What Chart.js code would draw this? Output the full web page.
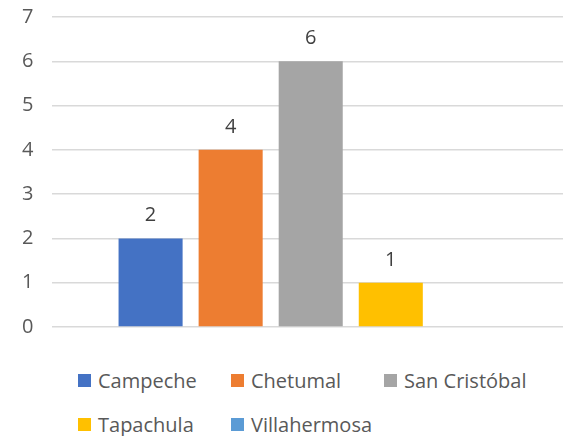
<!DOCTYPE html>
<html>
<head>
<meta charset="utf-8">
<script src="https://cdn.jsdelivr.net/npm/chart.js@4"></script>
<style>
  html, body { margin: 0; padding: 0; background: #fff; overflow: hidden; width: 563px; height: 436px; }
  #chart { position: absolute; left: 0; top: -14px; }
  #legend {
    position: absolute; left: 78px; top: 366px;
    display: grid; grid-template-columns: 153px 153px 170px; row-gap: 16px;
    font-family: "Open Sans", sans-serif; font-size: 20px; color: #595959;
  }
  .item { display: flex; align-items: center; white-space: nowrap; height: 28px; }
  .box { width: 13px; height: 13px; margin-right: 7px; }
</style>
</head>
<body>
<canvas id="chart" width="569" height="372"></canvas>
<div id="legend"></div>
<script>
// Datos del gráfico
const ciudades = ['Campeche', 'Chetumal', 'San Cristóbal', 'Tapachula', 'Villahermosa'];
const valores = [2, 4, 6, 1, null];
const colores = ['#4472C4', '#ED7D31', '#A5A5A5', '#FFC000', '#5B9BD5'];
const ticksY = [0, 1, 2, 3, 4, 5, 6, 7];

// Plugin simple para escribir el valor encima de cada barra
const etiquetas = {
    id: 'etiquetas',
    afterDatasetsDraw(chart) {
        const ctx = chart.ctx;
        ctx.save();
        ctx.font = '20px "Open Sans", sans-serif';
        ctx.fillStyle = '#404040';
        ctx.textAlign = 'center';
        ctx.textBaseline = 'alphabetic';
        chart.data.datasets.forEach((ds, i) => {
            const meta = chart.getDatasetMeta(i);
            meta.data.forEach((bar, j) => {
                const v = ds.data[j];
                if (v === null || v === undefined) return;
                ctx.fillText(String(v), bar.x, bar.y - 17);
            });
        });
        ctx.restore();
    }
};

const datasets = ciudades.map((nombre, i) => ({
    label: nombre,
    data: [valores[i]],
    backgroundColor: colores[i],
    categoryPercentage: 0.775,
    barPercentage: 0.8
}));

const chart = new Chart(document.getElementById('chart'), {
    type: 'bar',
    data: { labels: [''], datasets: datasets },
    options: {
        responsive: false,
        animation: false,
        layout: { padding: { left: 3, top: 10, right: 0, bottom: 0 } },
        plugins: { legend: { display: false }, tooltip: { enabled: false } },
        scales: {
            x: { display: false },
            y: {
                min: 0, max: 7,
                afterBuildTicks: axis => { axis.ticks = ticksY.map(v => ({ value: v })); },
                border: { display: false },
                grid: { color: '#d9d9d9', lineWidth: 1.5, drawTicks: false },
                ticks: {
                    padding: 19,
                    color: '#595959',
                    font: { family: '"Open Sans", sans-serif', size: 20 }
                }
            }
        }
    },
    plugins: [etiquetas]
});

// Leyenda en HTML con la misma disposición que la original
const legend = document.getElementById('legend');
chart.data.datasets.forEach(ds => {
    const item = document.createElement('div');
    item.className = 'item';
    const box = document.createElement('span');
    box.className = 'box';
    box.style.background = ds.backgroundColor;
    item.appendChild(box);
    item.appendChild(document.createTextNode(ds.label));
    legend.appendChild(item);
});
</script>
</body>
</html>
